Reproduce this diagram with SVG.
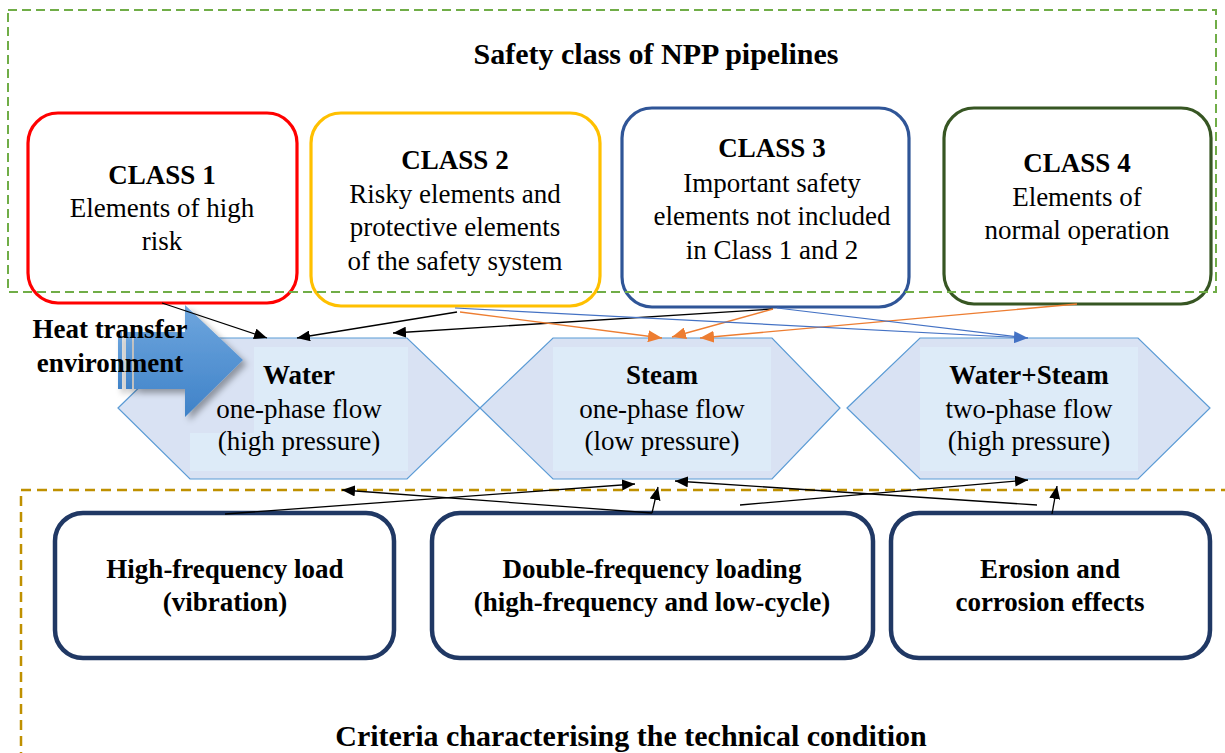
<svg xmlns="http://www.w3.org/2000/svg" width="1225" height="753" viewBox="0 0 1225 753">
<defs>
<style>
.t{font-family:"Liberation Serif","Times New Roman",serif;font-size:27px;fill:#000;text-anchor:middle}
.b{font-weight:bold}
.big{font-size:30px}
.cls{fill:#fff;stroke-width:3.2}
.crit{fill:#fff;stroke:#203864;stroke-width:4.5}
.hex{fill:#D9E2F3;stroke:#5B9BD5;stroke-width:1.2}
.inner{fill:#DDEBF8}
.k{stroke:#000;stroke-width:1.3;fill:none;marker-end:url(#ak)}
.o{stroke:#ED7D31;stroke-width:1.3;fill:none;marker-end:url(#ao)}
.bl{stroke:#4472C4;stroke-width:1.2;fill:none}
</style>
<marker id="ak" markerUnits="userSpaceOnUse" markerWidth="14" markerHeight="11" refX="13" refY="5.5" orient="auto"><path d="M0,0 L13,5.5 L0,11 z" fill="#000"/></marker>
<marker id="ao" markerUnits="userSpaceOnUse" markerWidth="15" markerHeight="12" refX="14" refY="6" orient="auto"><path d="M0,0 L14,6 L0,12 z" fill="#ED7D31"/></marker>
<marker id="ab" markerUnits="userSpaceOnUse" markerWidth="15" markerHeight="12" refX="14" refY="6" orient="auto"><path d="M0,0 L14,6 L0,12 z" fill="#4472C4"/></marker>
<linearGradient id="ag" x1="0" y1="0" x2="0" y2="1">
<stop offset="0" stop-color="#6EA6DE"/>
<stop offset="1" stop-color="#3F82C8"/>
</linearGradient>
<filter id="sh" x="-20%" y="-20%" width="150%" height="150%">
<feDropShadow dx="4" dy="4" stdDeviation="3" flood-color="#000" flood-opacity="0.35"/>
</filter>
</defs>
<rect width="1225" height="753" fill="#fff"/>

<g id="class1"><rect class="cls" x="28" y="113" width="269" height="190" rx="30" stroke="#FF0000"/>
<text class="t b" x="162" y="184">CLASS 1</text><text class="t" x="162" y="217">Elements of high</text><text class="t" x="162" y="250">risk</text></g>
<g id="class2"><rect class="cls" x="311" y="113" width="289" height="193" rx="30" stroke="#FFC000"/>
<text class="t b" x="455" y="169">CLASS 2</text><text class="t" x="455" y="203">Risky elements and</text><text class="t" x="455" y="236">protective elements</text><text class="t" x="455" y="270">of the safety system</text></g>
<g id="class3"><rect class="cls" x="622" y="108" width="287" height="199" rx="30" stroke="#2F5597"/>
<text class="t b" x="772" y="157">CLASS 3</text><text class="t" x="772" y="192">Important safety</text><text class="t" x="772" y="225">elements not included</text><text class="t" x="772" y="259">in Class 1 and 2</text></g>
<g id="class4"><rect class="cls" x="944" y="108" width="267" height="196" rx="30" stroke="#375623"/>
<text class="t b" x="1077" y="172">CLASS 4</text><text class="t" x="1077" y="206">Elements of</text><text class="t" x="1077" y="239">normal operation</text></g>

<g id="safety-group"><rect x="8" y="10" width="1208" height="282" fill="none" stroke="#70AD47" stroke-width="2" stroke-dasharray="9,5"/>
<text class="t b big" x="656" y="64">Safety class of NPP pipelines</text></g>

<g id="criteria-group"><rect x="21" y="490" width="1240" height="320" fill="none" stroke="#BF9000" stroke-width="2.5" stroke-dasharray="10,6"/>
<text class="t b big" x="631" y="746">Criteria characterising the technical condition</text></g>

<g id="water"><polygon class="hex" points="118,408 190,338 407,338 480,408 407,479 190,479"/>
<polygon class="inner" points="254,347 408,347 408,471 190,471 190,433 254,433"/>
<text class="t b" x="299" y="384">Water</text><text class="t" x="299" y="418">one-phase flow</text><text class="t" x="299" y="450">(high pressure)</text></g>
<g id="steam"><polygon class="hex" points="480,408 553,338 772,338 840,408 772,479 553,479"/>
<rect class="inner" x="553" y="347" width="218" height="124"/>
<text class="t b" x="662" y="384">Steam</text><text class="t" x="662" y="418">one-phase flow</text><text class="t" x="662" y="450">(low pressure)</text></g>
<g id="water-steam"><polygon class="hex" points="847,408 920,338 1138,338 1210,408 1138,479 920,479"/>
<rect class="inner" x="920" y="347" width="218" height="124"/>
<text class="t b" x="1029" y="384">Water+Steam</text><text class="t" x="1029" y="418">two-phase flow</text><text class="t" x="1029" y="450">(high pressure)</text></g>

<g id="heat-transfer"><g filter="url(#sh)" fill="url(#ag)">
<rect x="118" y="332" width="4" height="57"/>
<rect x="126" y="332" width="6" height="57"/>
<polygon points="134,332 185,332 185,305 243,360 185,417 185,389 134,389"/></g>
<text class="t b" x="110" y="338">Heat transfer</text><text class="t b" x="110" y="372">environment</text></g>

<g id="crit1"><rect class="crit" x="55" y="513" width="339" height="145" rx="28"/>
<text class="t b" x="225" y="578">High-frequency load</text><text class="t b" x="225" y="611">(vibration)</text></g>
<g id="crit2"><rect class="crit" x="432" y="513" width="441" height="145" rx="28"/>
<text class="t b" x="652" y="578">Double-frequency loading</text><text class="t b" x="652" y="611">(high-frequency and low-cycle)</text></g>
<g id="crit3"><rect class="crit" x="891" y="513" width="319" height="145" rx="28"/>
<text class="t b" x="1050" y="578">Erosion and</text><text class="t b" x="1050" y="611">corrosion effects</text></g>

<g id="connectors">
<line class="k" x1="162" y1="303" x2="267" y2="338"/>
<line class="k" x1="457" y1="312" x2="297" y2="338"/>
<line class="k" x1="773" y1="309" x2="393" y2="333"/>
<line class="o" x1="460" y1="312" x2="662" y2="338"/>
<line class="o" x1="773" y1="309" x2="672" y2="337"/>
<line class="o" x1="1077" y1="304" x2="700" y2="338" stroke-width="2.2"/>
<line class="bl" x1="455" y1="308" x2="1028" y2="338" marker-end="url(#ab)"/>
<line class="bl" x1="777" y1="308" x2="1028" y2="338"/>
<line class="k" x1="225" y1="514" x2="635" y2="484"/>
<line class="k" x1="652" y1="513" x2="342" y2="490"/>
<line class="k" x1="652" y1="513" x2="658" y2="487"/>
<line class="k" x1="1037" y1="505" x2="675" y2="481"/>
<line class="k" x1="740" y1="505" x2="1028" y2="480"/>
<line class="k" x1="1052" y1="514" x2="1057" y2="486"/>
</g>
</svg>
